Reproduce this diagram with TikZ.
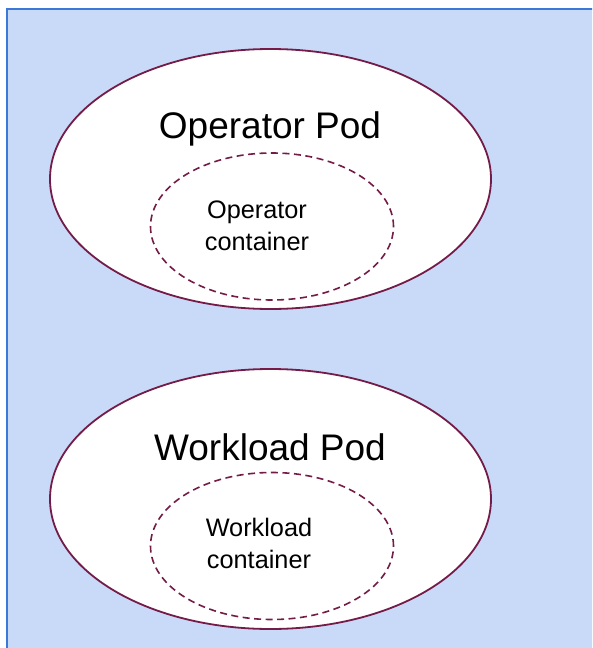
\documentclass[tikz,border=0pt]{standalone}
\usepackage{fontspec}
\setmainfont{Liberation Sans}
\usetikzlibrary{shapes.geometric}
\definecolor{panelfill}{HTML}{C9DAF8}
\definecolor{panelline}{HTML}{3C78D8}
\definecolor{podline}{HTML}{741B47}
\tikzset{
  pod/.style={ellipse, draw=podline, fill=white, line width=1.8pt,
    inner sep=0pt, outer sep=0pt, minimum width=441pt, minimum height=260pt},
  ctr/.style={ellipse, draw=podline, line width=1.6pt, dash pattern=on 7pt off 4.5pt,
    inner sep=0pt, outer sep=0pt, minimum width=243pt, minimum height=147pt},
  podlabel/.style={anchor=base, inner sep=0pt, font=\fontsize{37}{40}\selectfont},
  % anchored at the baseline of the last line
  ctrlabel/.style={anchor=base, inner sep=0pt, align=center,
    font=\fontsize{25.3}{32}\selectfont},
}
\begin{document}
\begin{tikzpicture}[x=1pt,y=1pt]
\useasboundingbox (0,0) rectangle (592,-648);
\begin{scope}
  \clip (0,0) rectangle (592,-648);
  \draw[panelline, fill=panelfill, line width=2pt] (7,-9) rectangle (610,-670);
\end{scope}
% operator pod
\node[pod] (oppod) at (270.5,-179) {};
\node[ctr] (opctr) at (272,-226.5) {};
\node[podlabel] (oppodlbl) at (270,-138) {Operator Pod};
\node[ctrlabel] (opctrlbl) at (257,-250) {Operator\\container};
% workload pod
\node[pod] (wlpod) at (270.5,-499) {};
\node[ctr] (wlctr) at (272,-546) {};
\node[podlabel] (wlpodlbl) at (270,-460) {Workload Pod};
\node[ctrlabel] (wlctrlbl) at (259,-568) {Workload\\container};
\end{tikzpicture}
\end{document}
